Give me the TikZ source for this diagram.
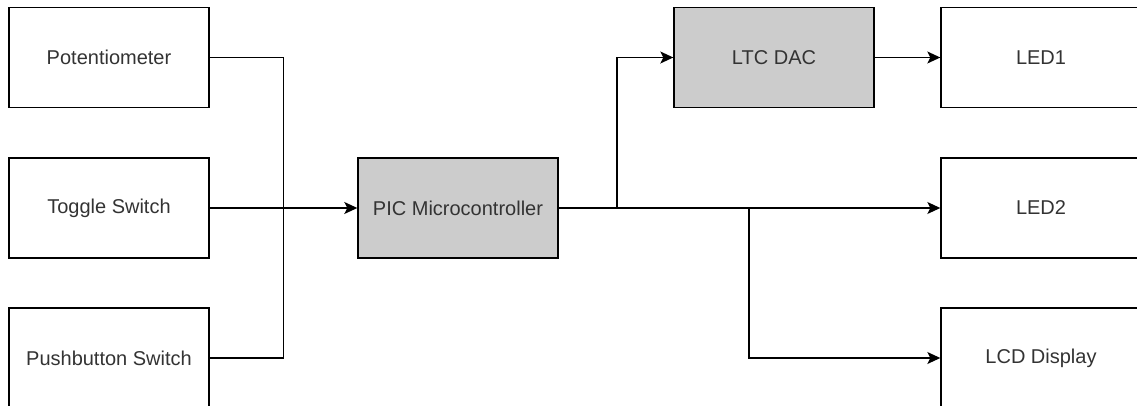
\documentclass[tikz,border=0pt]{standalone}
\usepackage{fontspec}
\setmainfont{Liberation Sans}
\usetikzlibrary{arrows.meta,positioning}
\definecolor{boxgray}{HTML}{CCCCCC}
\definecolor{txt}{HTML}{333333}
\begin{document}
\begin{tikzpicture}[x=1pt,y=-1pt,>={Stealth[length=13pt,width=12pt,inset=3pt]},
  blk/.style={draw=black,line width=1.4pt,minimum width=200pt,minimum height=100pt,
    text=txt,font=\fontsize{20}{24}\selectfont},
  gblk/.style={blk,fill=boxgray},
  wire/.style={line width=1.4pt}]
\useasboundingbox (0,0) rectangle (1137,406);
\clip (0,0) rectangle (1137,406);
% inputs
\node[blk] (pot) at (109,57.5) {Potentiometer};
\node[blk] (tog) at (109,208) {Toggle Switch};
\node[blk] (push) at (109,358) {Pushbutton Switch};
% processing
\node[gblk] (pic) at (458,208) {PIC Microcontroller};
\node[gblk] (dac) at (774,57.5) {LTC DAC};
% outputs
\node[blk] (led1) at (1041,57.5) {LED1};
\node[blk] (led2) at (1041,208) {LED2};
\node[blk] (lcd) at (1041,358) {LCD Display};
\coordinate (jin) at (283.5,208);
\coordinate (jdac) at (617,208);
\coordinate (jlcd) at (749,208);
\draw[wire] (pot.east) -| (jin);
\draw[wire] (push.east) -| (jin);
\draw[wire,->] (tog.east) -- (pic.west);
\draw[wire,->] (pic.east) -- (led2.west);
\draw[wire,->] (jdac) |- (dac.west);
\draw[wire,->] (dac.east) -- (led1.west);
\draw[wire,->] (jlcd) |- (lcd.west);
\end{tikzpicture}
\end{document}
